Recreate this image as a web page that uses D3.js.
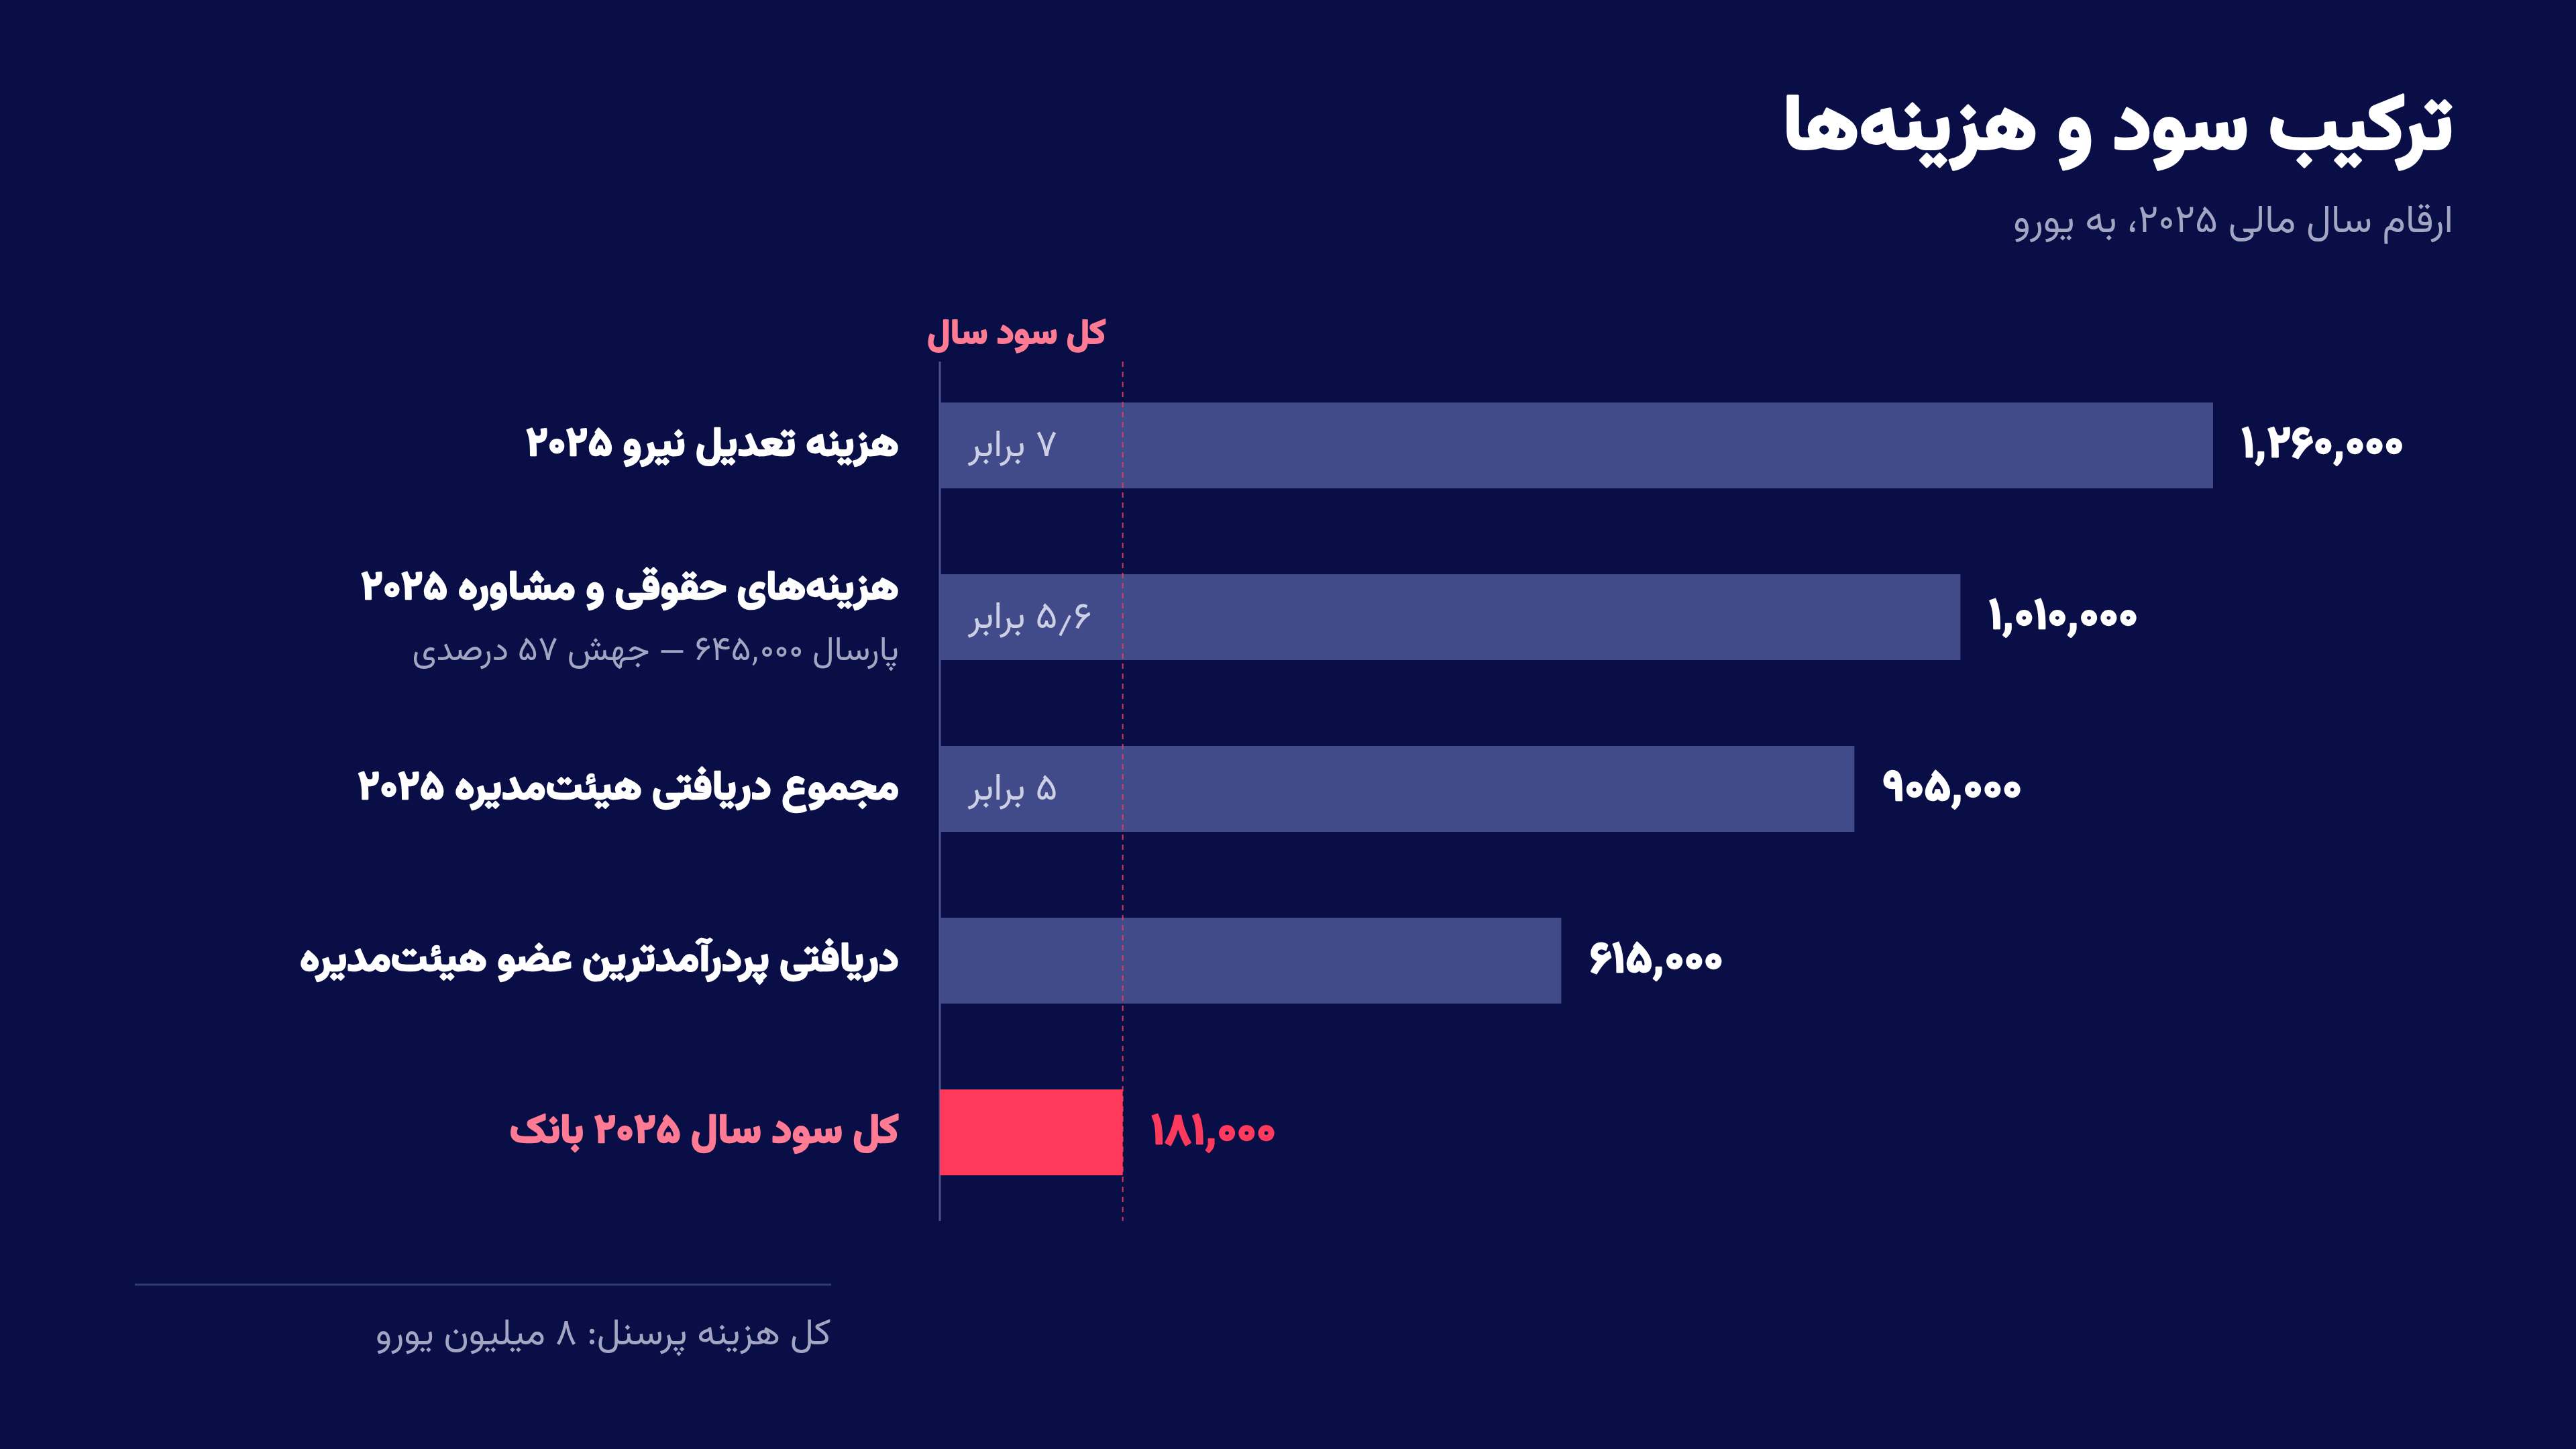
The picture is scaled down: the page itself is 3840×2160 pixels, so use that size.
<!DOCTYPE html>
<html lang="fa">
<head>
<meta charset="utf-8">
<script src="https://cdn.jsdelivr.net/npm/d3@7/dist/d3.min.js"></script>
<style>
  html, body { margin: 0; padding: 0; background: #0a0e47; }
  svg { display: block; }
  text { font-family: Vazirmatn, "Noto Sans Arabic", "DejaVu Sans", sans-serif; }
</style>
</head>
<body>
<svg id="chart" width="3840" height="2160"></svg>
<script>
// ---- data ----
const categories = [
  "هزینه تعدیل نیرو ۲۰۲۵",
  "هزینه‌های حقوقی و مشاوره ۲۰۲۵",
  "مجموع دریافتی هیئت‌مدیره ۲۰۲۵",
  "دریافتی پردرآمدترین عضو هیئت‌مدیره",
  "کل سود سال ۲۰۲۵ بانک"
];
const values = [1260000, 1010000, 905000, 615000, 181000];
const multiples = ["۷ برابر", "۵٫۶ برابر", "۵ برابر", "", ""];
const subLabels = ["", "پارسال ۶۴۵٬۰۰۰ — جهش ۵۷ درصدی", "", "", ""];
const profitValue = 181000;
const profitLabel = "کل سود سال";
const title = "ترکیب سود و هزینه‌ها";
const subtitle = "ارقام سال مالی ۲۰۲۵، به یورو";
const footnote = "کل هزینه پرسنل: ۸ میلیون یورو";

// ---- styling ----
const C = {
  bg: "#0a0e47",
  bar: "#424b8a",
  profit: "#ff3a5c",
  pinkText: "#ff7a93",
  white: "#ffffff",
  gray: "#a3a6c2",
  inner: "#cdd0e4",
  axis: "#4a5390",
  rule: "#2f3a7a"
};

const faDigits = "۰۱۲۳۴۵۶۷۸۹";
const toFa = n => d3.format(",")(n).replace(/,/g, "٬").replace(/\d/g, d => faDigits[d]);

const svg = d3.select("#chart");
svg.append("rect").attr("width", 3840).attr("height", 2160).attr("fill", C.bg);

const x = d3.scaleLinear().domain([0, d3.max(values)]).range([1401, 3299]);
const y = d3.scaleBand().domain(categories).range([536, 1816]).paddingInner(0.5).paddingOuter(0.25);

// heavy text helper: bold glyphs thickened with a stroke of the same colour
const heavy = (sel, color, sw) => sel.attr("fill", color).attr("stroke", color)
  .attr("stroke-width", sw).attr("stroke-linejoin", "round");

// title
svg.append("text").attr("x", 3657).attr("y", 222)
  .attr("direction", "rtl").attr("text-anchor", "start")
  .attr("font-size", 116).attr("font-weight", 700)
  .call(heavy, C.white, 4)
  .text(title);
svg.append("text").attr("x", 3657).attr("y", 346)
  .attr("direction", "rtl").attr("text-anchor", "start")
  .attr("font-size", 58).attr("fill", C.gray)
  .text(subtitle);

// axis line
svg.append("line").attr("x1", x(0)).attr("x2", x(0)).attr("y1", 539).attr("y2", 1820)
  .attr("stroke", C.axis).attr("stroke-width", 3);

// bars
const g = svg.append("g");
g.selectAll("rect.bar").data(values).join("rect")
  .attr("class", "bar")
  .attr("x", x(0))
  .attr("y", (d, i) => y(categories[i]))
  .attr("width", d => x(d) - x(0))
  .attr("height", y.bandwidth())
  .attr("fill", (d, i) => i === values.length - 1 ? C.profit : C.bar);

// profit reference line
svg.append("line").attr("x1", x(profitValue)).attr("x2", x(profitValue))
  .attr("y1", 539).attr("y2", 1820)
  .attr("stroke", C.profit).attr("stroke-width", 2).attr("stroke-dasharray", "8,7")
  .attr("opacity", 0.85);
svg.append("text").attr("x", x(profitValue) - 25).attr("y", 512)
  .attr("direction", "rtl").attr("text-anchor", "start")
  .attr("font-size", 52).attr("font-weight", 700)
  .call(heavy, C.pinkText, 2)
  .text(profitLabel);

// category labels
categories.forEach((c, i) => {
  const cy = y(c) + y.bandwidth() / 2 - 6;
  const hasSub = subLabels[i] !== "";
  svg.append("text").attr("x", 1340).attr("y", hasSub ? cy - 42 : cy)
    .attr("dy", "0.35em")
    .attr("direction", "rtl").attr("text-anchor", "start")
    .attr("font-size", 60.5).attr("font-weight", 700)
    .call(heavy, i === categories.length - 1 ? C.pinkText : C.white, 2.5)
    .text(c);
  if (hasSub) {
    svg.append("text").attr("x", 1340).attr("y", cy + 52)
      .attr("dy", "0.35em")
      .attr("direction", "rtl").attr("text-anchor", "start")
      .attr("font-size", 51).attr("fill", C.gray)
      .text(subLabels[i]);
  }
});

// value labels
g.selectAll("text.val").data(values).join("text")
  .attr("class", "val")
  .attr("x", d => x(d) + 42)
  .attr("y", (d, i) => y(categories[i]) + y.bandwidth() / 2 - 6)
  .attr("dy", "0.35em")
  .attr("text-anchor", "start")
  .attr("font-size", 66).attr("font-weight", 700)
  .each(function(d, i) { d3.select(this).call(heavy, i === values.length - 1 ? C.profit : C.white, 2.5); })
  .text(d => toFa(d));

// multiple labels inside bars
g.selectAll("text.mul").data(multiples).join("text")
  .attr("class", "mul")
  .attr("x", x(0) + 42)
  .attr("y", (d, i) => y(categories[i]) + y.bandwidth() / 2 - 4)
  .attr("dy", "0.35em")
  .attr("direction", "rtl").attr("text-anchor", "end")
  .attr("font-size", 56).attr("fill", C.inner)
  .text(d => d);

// footer
svg.append("line").attr("x1", 201).attr("x2", 1239).attr("y1", 1915).attr("y2", 1915)
  .attr("stroke", C.rule).attr("stroke-width", 3);
svg.append("text").attr("x", 1239).attr("y", 1985)
  .attr("dy", "0.35em")
  .attr("direction", "rtl").attr("text-anchor", "start")
  .attr("font-size", 55).attr("fill", C.gray)
  .text(footnote);
</script>
</body>
</html>
